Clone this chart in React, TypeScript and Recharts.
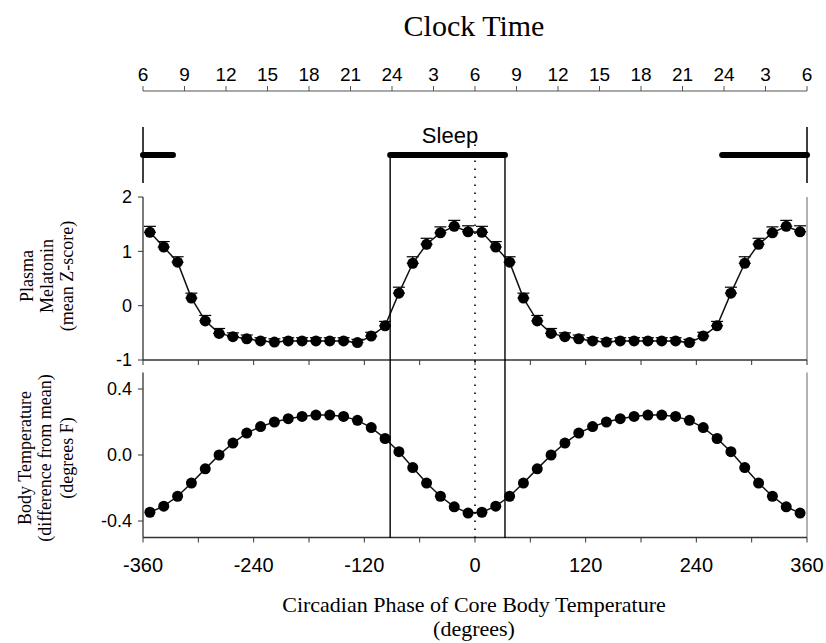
import React from 'react';
import { LineChart, Line, XAxis, YAxis, ReferenceLine, ErrorBar } from 'recharts';

// ---- data ----
const phaseBins = [-352.5, -337.5, -322.5, -307.5, -292.5, -277.5, -262.5, -247.5, -232.5, -217.5, -202.5, -187.5,
  -172.5, -157.5, -142.5, -127.5, -112.5, -97.5, -82.5, -67.5, -52.5, -37.5, -22.5, -7.5];
const melatonin = [1.35, 1.08, 0.8, 0.14, -0.28, -0.51, -0.57, -0.61, -0.65, -0.67, -0.65, -0.65,
  -0.65, -0.65, -0.65, -0.68, -0.56, -0.37, 0.23, 0.78, 1.13, 1.34, 1.46, 1.36];
const melatoninSem = [0.11, 0.1, 0.1, 0.09, 0.1, 0.09, 0.07, 0.07, 0.06, 0.06, 0.06, 0.06,
  0.06, 0.06, 0.06, 0.06, 0.07, 0.08, 0.11, 0.12, 0.11, 0.11, 0.11, 0.11];
const temperature = [-0.347, -0.31, -0.25, -0.17, -0.084, 0.0, 0.072, 0.133, 0.172, 0.2, 0.22, 0.234,
  0.242, 0.242, 0.234, 0.21, 0.166, 0.1, 0.02, -0.076, -0.17, -0.25, -0.314, -0.352];
const plotCycles = [0, 360];
const sleepOnset = -92;
const sleepOffset = 32.5;
const sleepBars = [[-360, sleepOffset - 360], [sleepOnset, sleepOffset], [sleepOnset + 360, 360]];
const clockTickDegrees = [-360, -315, -270, -225, -180, -135, -90, -45, 0, 45, 90, 135, 180, 225, 270, 315, 360];
const clockTickLabels = ['6', '9', '12', '15', '18', '21', '24', '3', '6', '9', '12', '15', '18', '21', '24', '3', '6'];
const phaseTicks = [-360, -300, -240, -180, -120, -60, 0, 60, 120, 180, 240, 300, 360];
const phaseLabelled = [-360, -240, -120, 0, 120, 240, 360];
const melTicks = [-1, 0, 1, 2];
const tempTicks = [-0.4, 0, 0.4];

const rows = plotCycles.flatMap((shift) =>
  phaseBins.map((p, i) => ({
    phase: p + shift,
    mel: melatonin[i],
    melErr: [0, melatoninSem[i]],
    temp: temperature[i],
  }))
);

// ---- layout ----
const W = 826;
const H = 643;
const PLOT_L = 143;
const PLOT_R = 807;
const SANS = 'Liberation Sans, Arial, sans-serif';
const SERIF = 'Liberation Serif, Times New Roman, serif';
const AXIS = '#333';

const abs: React.CSSProperties = { position: 'absolute', left: 0, top: 0 };

const dotStyle = { r: 5.5, fill: '#000', stroke: '#000', strokeWidth: 0 };

export default function App() {
  return (
    <div style={{ position: 'absolute', left: 0, top: 0, width: W, height: H, background: '#fff' }}>
      {/* Clock time axis + sleep bars */}
      <div style={abs}>
        <LineChart width={W} height={H} data={rows}
          margin={{ top: 61, bottom: H - 183, left: PLOT_L, right: W - PLOT_R }}>
          <XAxis dataKey="phase" type="number" orientation="top" height={30}
            domain={[-360, 360]} ticks={clockTickDegrees}
            tickFormatter={(v: number) => clockTickLabels[clockTickDegrees.indexOf(v)] ?? ''}
            tickSize={5} tickMargin={5} interval={0}
            axisLine={{ stroke: '#555', strokeWidth: 1.2 }} tickLine={{ stroke: '#555' }}
            tick={{ fill: '#000', fontSize: 19, fontFamily: SANS }} />
          <YAxis hide domain={[0, 1]} allowDataOverflow />
          <Line dataKey="mel" stroke="none" dot={false} activeDot={false} isAnimationActive={false} />
          <ReferenceLine ifOverflow="visible"
            segment={[{ x: -360, y: 0 }, { x: -360, y: 0.61 }]} stroke="#000" strokeWidth={1.5} />
          <ReferenceLine ifOverflow="visible"
            segment={[{ x: 360, y: 0 }, { x: 360, y: 0.61 }]} stroke="#000" strokeWidth={1.5} />
          {sleepBars.map(([a, b], i) => (
            <ReferenceLine key={i} ifOverflow="visible"
              segment={[{ x: a, y: 0.304 }, { x: b, y: 0.304 }]}
              stroke="#000" strokeWidth={6} strokeLinecap="round" />
          ))}
        </LineChart>
      </div>

      {/* Melatonin panel */}
      <div style={abs}>
        <LineChart width={W} height={H} data={rows}
          margin={{ top: 197, bottom: H - 360 - 30, left: PLOT_L - 60, right: W - PLOT_R }}>
          <XAxis dataKey="phase" type="number" domain={[-360, 360]} ticks={phaseTicks} interval={0}
            height={30} tickSize={5} tickFormatter={() => ''}
            axisLine={{ stroke: AXIS, strokeWidth: 1.3 }} tickLine={{ stroke: AXIS }} />
          <YAxis width={60} domain={[-1, 2]} ticks={melTicks} interval={0} tickSize={5} tickMargin={6}
            axisLine={{ stroke: AXIS, strokeWidth: 1.3 }} tickLine={{ stroke: AXIS }}
            tick={{ fill: '#000', fontSize: 18, fontFamily: SANS }} />
          <ReferenceLine x={360} stroke="#999" strokeWidth={1.5} />
          <Line dataKey="mel" stroke="#111" strokeWidth={1.5} isAnimationActive={false}
            dot={dotStyle} activeDot={false}>
            <ErrorBar dataKey="melErr" width={6} stroke="#000" strokeWidth={1.2} direction="y"
              isAnimationActive={false} />
          </Line>
        </LineChart>
      </div>

      {/* Temperature panel */}
      <div style={abs}>
        <LineChart width={W} height={H} data={rows}
          margin={{ top: 372.5, bottom: H - 537.5 - 40, left: PLOT_L - 60, right: W - PLOT_R }}>
          <XAxis dataKey="phase" type="number" domain={[-360, 360]} ticks={phaseTicks} interval={0}
            height={40} tickSize={5} tickMargin={15}
            tickFormatter={(v: number) => (phaseLabelled.includes(v) ? String(v) : '')}
            axisLine={{ stroke: AXIS, strokeWidth: 1.3 }} tickLine={{ stroke: AXIS }}
            tick={{ fill: '#000', fontSize: 20, fontFamily: SANS }} />
          <YAxis width={60} domain={[-0.5, 0.5]} ticks={tempTicks} interval={0} tickSize={5} tickMargin={6}
            tickFormatter={(v: number) => v.toFixed(1)}
            axisLine={{ stroke: AXIS, strokeWidth: 1.3 }} tickLine={{ stroke: AXIS }}
            tick={{ fill: '#000', fontSize: 18, fontFamily: SANS }} />
          <ReferenceLine x={360} stroke="#999" strokeWidth={1.5} />
          <Line dataKey="temp" stroke="#111" strokeWidth={1.5} isAnimationActive={false}
            dot={dotStyle} activeDot={false} />
        </LineChart>
      </div>

      {/* Sleep episode boundaries and phase 0 marker */}
      <div style={abs}>
        <LineChart width={W} height={H} data={rows}
          margin={{ top: 155, bottom: H - 538, left: PLOT_L, right: W - PLOT_R }}>
          <XAxis dataKey="phase" type="number" hide domain={[-360, 360]} />
          <YAxis hide domain={[0, 1]} allowDataOverflow />
          <Line dataKey="mel" stroke="none" dot={false} activeDot={false} isAnimationActive={false} />
          <ReferenceLine x={sleepOnset} stroke="#000" strokeWidth={1.4} />
          <ReferenceLine x={sleepOffset} stroke="#000" strokeWidth={1.4} />
          <ReferenceLine ifOverflow="visible"
            segment={[{ x: 0, y: 0 }, { x: 0, y: 1.044 }]}
            stroke="#000" strokeWidth={1.6} strokeDasharray="1.6 6.4" />
        </LineChart>
      </div>

      {/* Titles */}
      <svg width={W} height={H} style={{ ...abs, pointerEvents: 'none' }}>
        <text x={474} y={36} textAnchor="middle" fontFamily={SERIF} fontSize={30} fill="#000">Clock Time</text>
        <text x={450} y={143} textAnchor="middle" fontFamily={SANS} fontSize={22} fill="#000">Sleep</text>
        <text x={474} y={612} textAnchor="middle" fontFamily={SERIF} fontSize={22} fill="#000">
          Circadian Phase of Core Body Temperature
        </text>
        <text x={474} y={636} textAnchor="middle" fontFamily={SERIF} fontSize={22} fill="#000">(degrees)</text>
        {[['Plasma', 27], ['Melatonin', 47], ['(mean Z-score)', 67]].map(([t, x]) => (
          <text key={t as string} x={x as number} y={276} textAnchor="middle" dominantBaseline="central"
            fontFamily={SERIF} fontSize={18} fill="#000"
            transform={`rotate(-90 ${x} 276)`}>{t}</text>
        ))}
        {[['Body Temperature', 25], ['(difference from mean)', 45], ['(degrees F)', 67]].map(([t, x]) => (
          <text key={t as string} x={x as number} y={458} textAnchor="middle" dominantBaseline="central"
            fontFamily={SERIF} fontSize={18} fill="#000"
            transform={`rotate(-90 ${x} 458)`}>{t}</text>
        ))}
      </svg>
    </div>
  );
}
